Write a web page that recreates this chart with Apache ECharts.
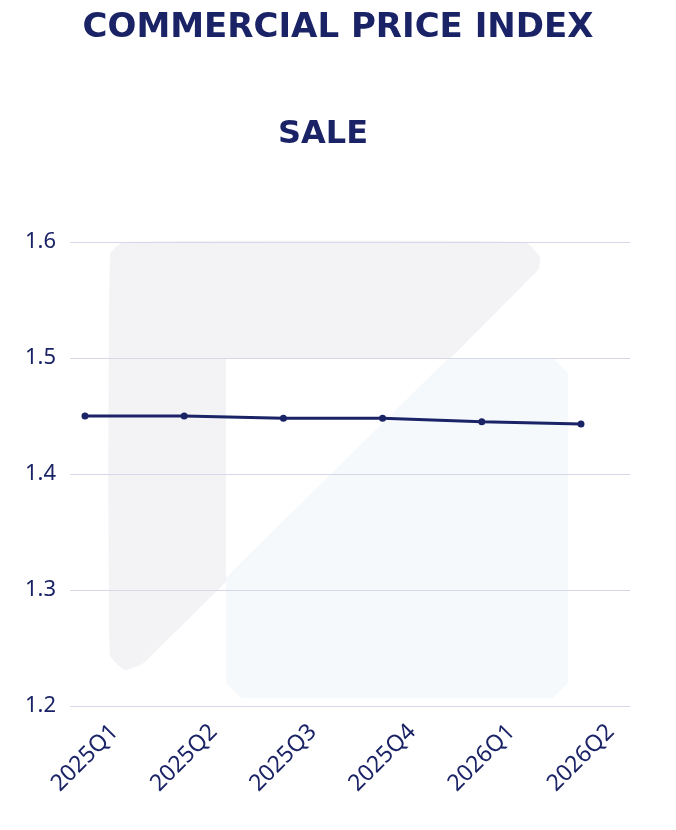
<!DOCTYPE html>
<html><head><meta charset="utf-8">
<script src="https://cdn.jsdelivr.net/npm/echarts@6/dist/echarts.min.js"></script>
<style>html,body{margin:0;padding:0;background:#fff}#c{width:676px;height:830px}</style>
</head><body><div id="c"></div>
<script>
const categories = ['2025Q1','2025Q2','2025Q3','2025Q4','2026Q1','2026Q2'];
const values = [1.450, 1.450, 1.448, 1.448, 1.445, 1.443];
const yTicks = [1.2, 1.3, 1.4, 1.5, 1.6];
const navy = '#1a2366';
const chart = echarts.init(document.getElementById('c'));
chart.setOption({
  backgroundColor: '#fff',
  title: [
    {text: 'COMMERCIAL PRICE INDEX', left: 'center', top: 6,
     textStyle: {fontFamily: 'DejaVu Sans', fontWeight: 'bold', fontSize: 34, color: navy}},
    {text: 'SALE', left: 273, top: 114,
     textStyle: {fontFamily: 'DejaVu Sans', fontWeight: 'bold', fontSize: 32, color: navy}}
  ],
  graphic: [
    {type: 'polygon', z: -10, silent: true,
     shape: {points: [[110,255],[123,242],[525,242],[540,257],[538,270],[145,662],[125,670],[110,655]], smooth: 0.15},
     style: {fill: '#f3f3f6'}},
    {type: 'polygon', z: -9, silent: true,
     shape: {points: [[226,358],[449,358],[226,578]]}, style: {fill: '#ffffff'}},
    {type: 'polygon', z: -9, silent: true,
     shape: {points: [[449,358],[553,358],[568,373],[568,683],[553,698],[241,698],[226,683],[226,578]]},
     style: {fill: '#f5f9fc'}}
  ],
  grid: {left: 70, right: 46, top: 242, bottom: 124},
  xAxis: {
    type: 'value', min: -0.151, max: 5.494,
    axisLine: {show: false}, axisTick: {show: false}, splitLine: {show: false},
    axisLabel: {customValues: categories.map((c, i) => i), rotate: 45, fontSize: 23,
      fontFamily: 'Noto Sans', color: navy, margin: 52, align: 'center', verticalAlign: 'middle',
      padding: [0, 0, 0, 0],
      formatter: v => categories[Math.round(v)]}
  },
  yAxis: {
    type: 'value', min: 1.2, max: 1.6, interval: 0.1,
    axisLine: {show: false}, axisTick: {show: false},
    splitLine: {lineStyle: {color: '#d6d8ea', width: 1}},
    axisLabel: {fontSize: 22, fontFamily: 'Noto Sans', color: navy, margin: 14,
      formatter: v => v.toFixed(1)}
  },
  series: [{
    type: 'line', data: values.map((v, i) => [i, v]),
    symbol: 'circle', symbolSize: 7,
    lineStyle: {color: navy, width: 3}, itemStyle: {color: navy}
  }]
});
</script></body></html>
